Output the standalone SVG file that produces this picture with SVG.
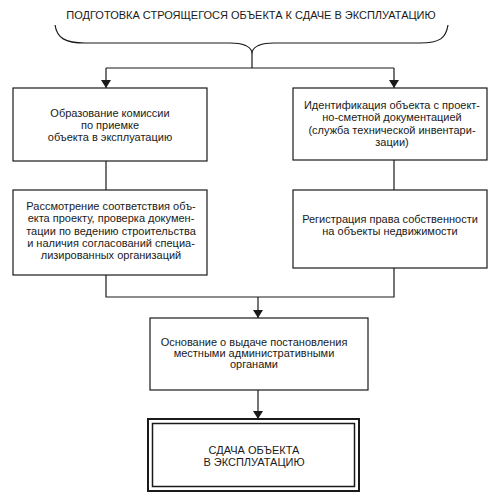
<svg xmlns="http://www.w3.org/2000/svg" width="500" height="502" viewBox="0 0 500 502">
<style>
text{font-family:"Liberation Sans",Arial,sans-serif;font-size:11px;fill:#1a1a1a;text-anchor:middle}
.box{fill:#fff;stroke:#1a1a1a;stroke-width:1.2}
.ln{fill:none;stroke:#1a1a1a;stroke-width:1.2}
</style>
<defs>
<marker id="ar" viewBox="0 0 8 10" refX="8" refY="5" markerWidth="8" markerHeight="10" markerUnits="userSpaceOnUse" orient="auto">
<path d="M0,0 L8,5 L0,10 Z" fill="#1a1a1a"/>
</marker>
</defs>
<rect width="500" height="502" fill="#fff"/>
<g id="title">
<text x="251" y="19">ПОДГОТОВКА СТРОЯЩЕГОСЯ ОБЪЕКТА К СДАЧЕ В ЭКСПЛУАТАЦИЮ</text>
</g>
<g id="connectors">
<path class="ln" d="M55,25 C57,38 65,43 85,43 L230,43 C242,43 250,46 252,52 C254,46 262,43 274,43 L420,43 C440,43 446,38 448,25"/>
<path class="ln" d="M252,52 V68 M106,68 H394"/>
<path class="ln" d="M106,68 V88" marker-end="url(#ar)"/>
<path class="ln" d="M394,68 V88" marker-end="url(#ar)"/>
<path class="ln" d="M106,161 V190"/>
<path class="ln" d="M394,160 V190"/>
<path class="ln" d="M106,275 V297 H394 V268"/>
<path class="ln" d="M258,297 V318" marker-end="url(#ar)"/>
<path class="ln" d="M258,390 V419" marker-end="url(#ar)"/>
</g>
<g id="n1">
<rect class="box" x="13" y="88" width="194" height="73"/>
<text x="110" y="117">Образование комиссии</text>
<text x="110" y="129">по приемке</text>
<text x="110" y="141">объекта в эксплуатацию</text>
</g>
<g id="n2">
<rect class="box" x="13" y="190" width="194" height="85"/>
<text x="111" y="210">Рассмотрение соответствия объ-</text>
<text x="111" y="222">екта проекту, проверка докумен-</text>
<text x="111" y="235">тации по ведению строительства</text>
<text x="111" y="247">и наличия согласований  специа-</text>
<text x="111" y="259">лизированных организаций</text>
</g>
<g id="n3">
<rect class="box" x="293" y="88" width="194" height="72"/>
<text x="392" y="109">Идентификация объекта с проект-</text>
<text x="392" y="121">но-сметной документацией</text>
<text x="392" y="134">(служба технической инвентари-</text>
<text x="392" y="146">зации)</text>
</g>
<g id="n4">
<rect class="box" x="293" y="190" width="194" height="78"/>
<text x="390" y="223">Регистрация права собственности</text>
<text x="390" y="235">на объекты недвижимости</text>
</g>
<g id="n5">
<rect class="box" x="150" y="318" width="218" height="72"/>
<text x="254" y="346">Основание о выдаче постановления</text>
<text x="254" y="357">местными административными</text>
<text x="254" y="368">органами</text>
</g>
<g id="n6">
<rect x="148" y="419" width="211" height="72" fill="#fff" stroke="#1a1a1a" stroke-width="2"/>
<rect x="152.5" y="423.5" width="202" height="63" fill="none" stroke="#1a1a1a" stroke-width="1.5"/>
<text x="254" y="454">СДАЧА ОБЪЕКТА</text>
<text x="254" y="466">В ЭКСПЛУАТАЦИЮ</text>
</g>
</svg>
